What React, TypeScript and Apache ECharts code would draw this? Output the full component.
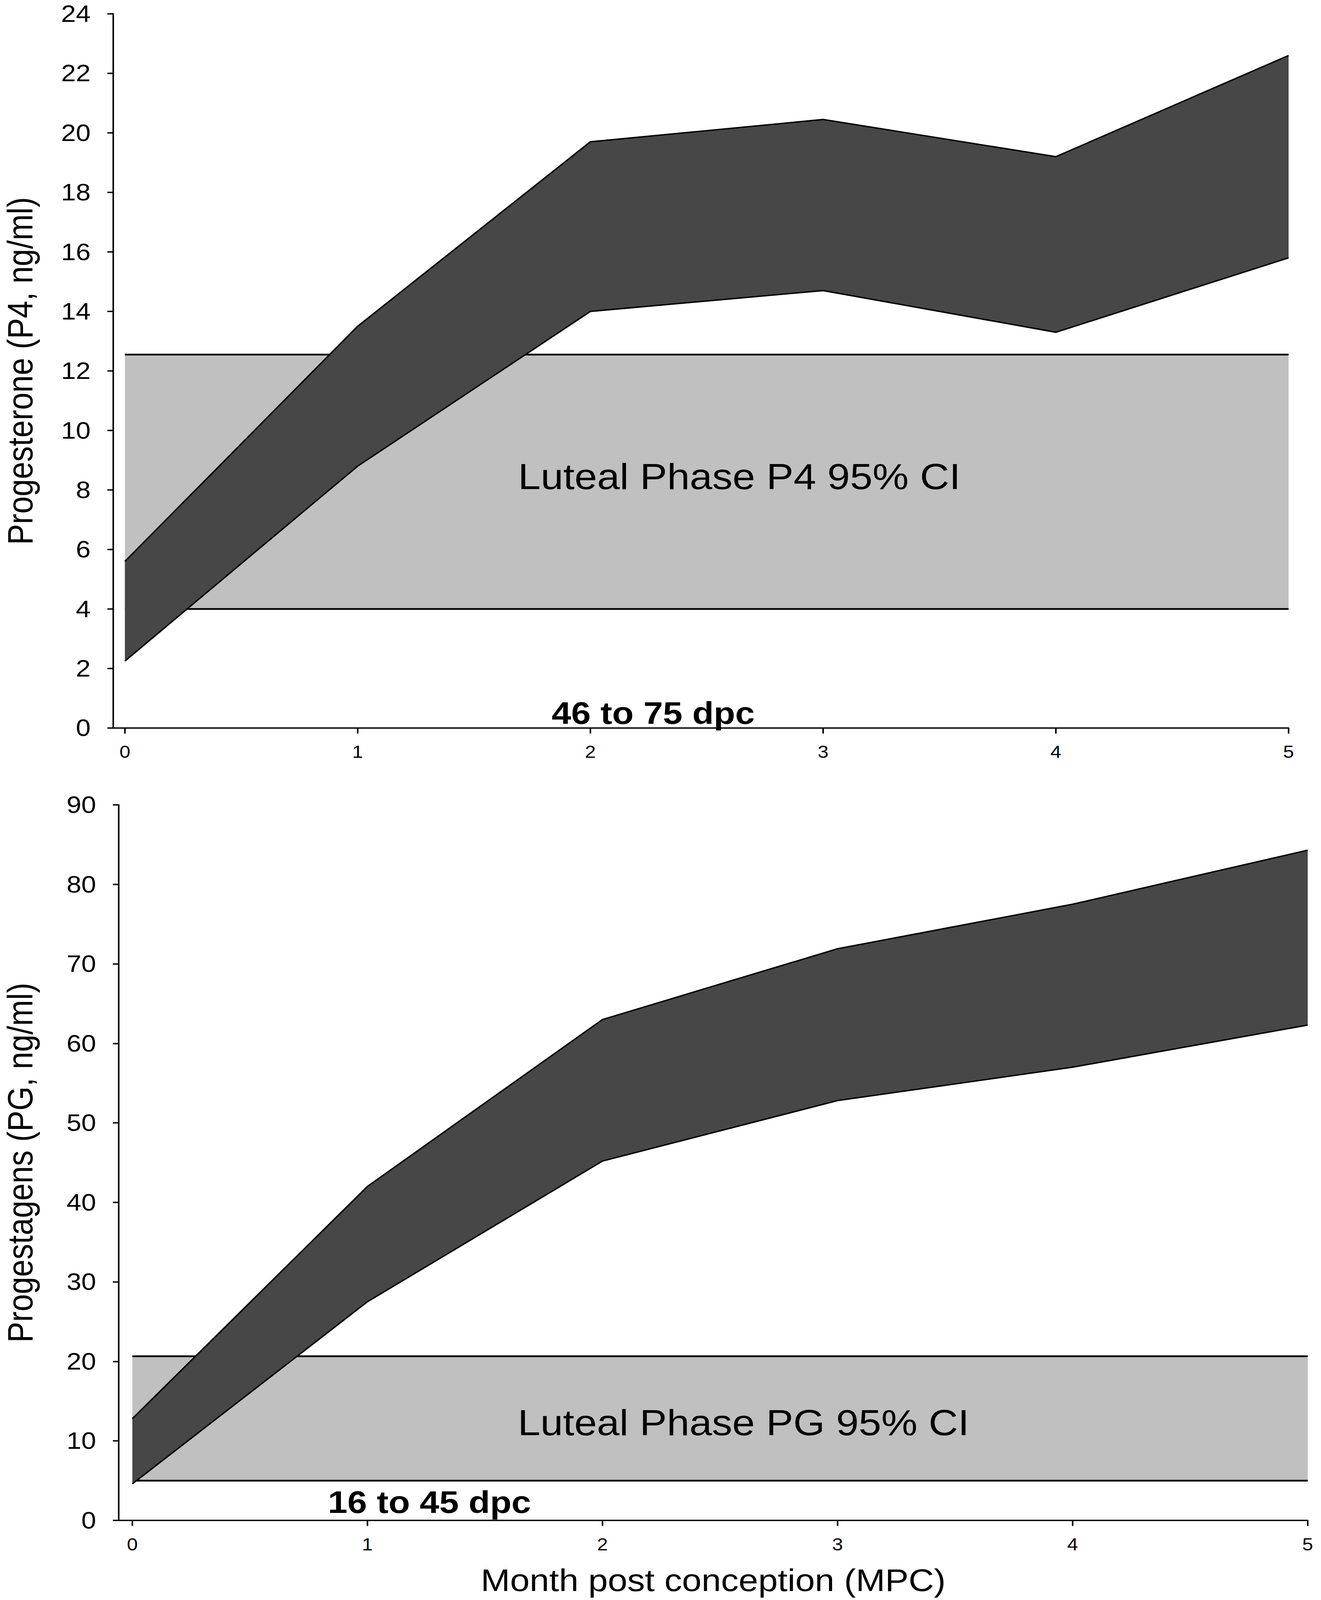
import React, { useEffect, useRef, useState } from "react";
import * as echarts from "echarts";

// ---- data ----
const months = [0, 1, 2, 3, 4, 5];
const xTickValues = [0, 1, 2, 3, 4, 5];

// Panel A: Progesterone (P4, ng/ml) 95% CI band over months
const p4Upper = [5.6, 13.5, 19.7, 20.45, 19.2, 22.6];
const p4Lower = [2.25, 8.8, 14.0, 14.7, 13.3, 15.8];
const p4LutealLow = 4.0;
const p4LutealHigh = 12.55;

// Panel B: Progestagens (PG, ng/ml) 95% CI band over months
const pgUpper = [12.8, 42.0, 63.0, 71.9, 77.5, 84.3];
const pgLower = [4.6, 27.5, 45.2, 52.8, 57.0, 62.3];
const pgLutealLow = 5.0;
const pgLutealHigh = 20.65;

// texts
const p4AxisName = "Progesterone (P4, ng/ml)";
const pgAxisName = "Progestagens (PG, ng/ml)";
const xAxisName = "Month post conception (MPC)";
const p4BandLabel = "Luteal Phase P4 95% CI";
const pgBandLabel = "Luteal Phase PG 95% CI";
const p4RangeLabel = "46 to 75 dpc";
const pgRangeLabel = "16 to 45 dpc";

// annotation anchors (data units)
const p4BandLabelAt = [2.64, 8.45];
const pgBandLabelAt = [2.6, 12.3];
const p4RangeLabelAt = [2.27, 0.51];
const pgRangeLabelAt = [1.264, 2.3];

const W = 3383;
const H = 4624;
const FONT = "'Liberation Sans', Arial, Helvetica, sans-serif";
const DARK = "#474747";
const LIGHT = "#c0c0c0";

function makeTextEl(text: string, pos: number[], size: number, weight: string) {
  return {
    type: "text",
    x: pos[0],
    y: pos[1],
    style: {
      text,
      fill: "#000",
      fontSize: size,
      fontFamily: FONT,
      fontWeight: weight,
      align: "center",
      verticalAlign: "middle",
      textAlign: "center",
      textVerticalAlign: "middle",
    },
  };
}

function lutealRender(lo: number, hi: number, label: string, labelAt: number[]) {
  return (params: any, api: any) => {
    if (params.dataIndex !== 0) return null;
    const first = months[0];
    const last = months[months.length - 1];
    const pLo0 = api.coord([first, lo]);
    const pLo1 = api.coord([last, lo]);
    const pHi0 = api.coord([first, hi]);
    const pHi1 = api.coord([last, hi]);
    const lp = api.coord(labelAt);
    return {
      type: "group",
      children: [
        {
          type: "rect",
          shape: { x: pHi0[0], y: pHi0[1], width: pHi1[0] - pHi0[0], height: pLo0[1] - pHi0[1] },
          style: { fill: LIGHT },
        },
        {
          type: "line",
          shape: { x1: pHi0[0], y1: pHi0[1], x2: pHi1[0], y2: pHi1[1] },
          style: { stroke: "#000", lineWidth: 5 },
        },
        {
          type: "line",
          shape: { x1: pLo0[0], y1: pLo0[1], x2: pLo1[0], y2: pLo1[1] },
          style: { stroke: "#000", lineWidth: 5 },
        },
        makeTextEl(label, lp, 104, "normal"),
      ],
    };
  };
}

function bandRender(lower: number[], upper: number[], label: string, labelAt: number[]) {
  return (params: any, api: any) => {
    if (params.dataIndex !== 0) return null;
    const top = months.map((m, i) => api.coord([m, upper[i]]));
    const bot = months.map((m, i) => api.coord([m, lower[i]]));
    const poly = top.concat(bot.slice().reverse());
    const lp = api.coord(labelAt);
    return {
      type: "group",
      children: [
        { type: "polygon", shape: { points: poly }, style: { fill: DARK } },
        { type: "polyline", shape: { points: top }, style: { stroke: "#000", lineWidth: 4, fill: null } },
        { type: "polyline", shape: { points: bot }, style: { stroke: "#000", lineWidth: 4, fill: null } },
        makeTextEl(label, lp, 90, "bold"),
      ],
    };
  };
}

function xAxisCfg(gridIndex: number, min: number, withName: boolean) {
  const cfg: any = {
    gridIndex,
    type: "value",
    min,
    max: 5,
    axisLine: { show: true, onZero: false, lineStyle: { color: "#000", width: 4 } },
    axisTick: { show: true, customValues: xTickValues, length: 16, lineStyle: { color: "#000", width: 4 } },
    axisLabel: { customValues: xTickValues, fontSize: 50, color: "#000", margin: 44, fontFamily: FONT },
    splitLine: { show: false },
  };
  if (withName) {
    cfg.name = xAxisName;
    cfg.nameLocation = "middle";
    cfg.nameGap = 128;
    cfg.nameMoveOverlap = false;
    cfg.nameTextStyle = { fontSize: 90, color: "#000", fontFamily: FONT };
  }
  return cfg;
}

function yAxisCfg(gridIndex: number, max: number, interval: number, name: string, gap: number) {
  return {
    gridIndex,
    type: "value",
    min: 0,
    max,
    interval,
    name,
    nameLocation: "middle",
    nameGap: gap,
    nameMoveOverlap: false,
    nameTextStyle: { fontSize: 90, color: "#000", fontFamily: FONT },
    axisLine: { show: true, onZero: false, lineStyle: { color: "#000", width: 4 } },
    axisTick: { show: true, length: 15, lineStyle: { color: "#000", width: 4 } },
    axisLabel: { fontSize: 68, color: "#000", margin: 58, fontFamily: FONT },
    splitLine: { show: false },
  };
}

export default function App() {
  const ref = useRef<HTMLDivElement>(null);
  const [scaleY] = useState(() =>
    typeof window !== "undefined" && window.innerHeight > 0 ? Math.min(1, window.innerHeight / H) : 1
  );
  useEffect(() => {
    if (!ref.current) return;
    document.body.style.margin = "0";
    const chart = echarts.init(ref.current, undefined, { renderer: "svg" });
    chart.setOption({
      animation: false,
      backgroundColor: "#ffffff",
      textStyle: { fontFamily: FONT },
      grid: [
        { left: 290, right: 83, top: 40, height: 2064, outerBoundsMode: "none", containLabel: false },
        { left: 304, right: 34, top: 2326, height: 2068, outerBoundsMode: "none", containLabel: false },
      ],
      xAxis: [xAxisCfg(0, -0.05, false), xAxisCfg(1, -0.058, true)],
      yAxis: [yAxisCfg(0, 24, 2, p4AxisName, 193), yAxisCfg(1, 90, 10, pgAxisName, 207)],
      series: [
        {
          type: "custom",
          xAxisIndex: 0,
          yAxisIndex: 0,
          renderItem: lutealRender(p4LutealLow, p4LutealHigh, p4BandLabel, p4BandLabelAt),
          data: [[months[0], p4LutealLow]],
          z: 1,
          silent: true,
        },
        {
          type: "custom",
          xAxisIndex: 0,
          yAxisIndex: 0,
          renderItem: bandRender(p4Lower, p4Upper, p4RangeLabel, p4RangeLabelAt),
          data: [[months[0], p4Lower[0]]],
          z: 2,
          silent: true,
        },
        {
          type: "custom",
          xAxisIndex: 1,
          yAxisIndex: 1,
          renderItem: lutealRender(pgLutealLow, pgLutealHigh, pgBandLabel, pgBandLabelAt),
          data: [[months[0], pgLutealLow]],
          z: 1,
          silent: true,
        },
        {
          type: "custom",
          xAxisIndex: 1,
          yAxisIndex: 1,
          renderItem: bandRender(pgLower, pgUpper, pgRangeLabel, pgRangeLabelAt),
          data: [[months[0], pgLower[0]]],
          z: 2,
          silent: true,
        },
      ],
    });
    return () => chart.dispose();
  }, []);
  return (
    <div style={{ width: W, height: Math.floor(H * scaleY), overflow: "hidden", background: "#fff" }}>
      <div
        ref={ref}
        style={{
          width: W,
          height: H,
          background: "#fff",
          transform: `scale(1, ${scaleY})`,
          transformOrigin: "0 0",
        }}
      />
    </div>
  );
}
